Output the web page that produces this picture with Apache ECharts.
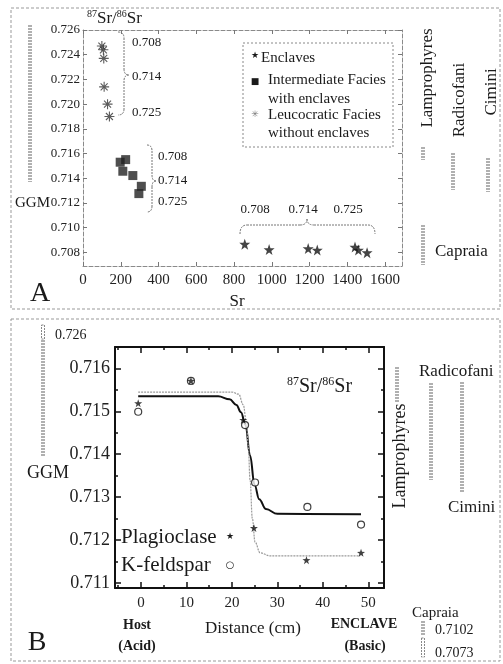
<!DOCTYPE html>
<html>
<head>
<meta charset="utf-8">
<script src="https://cdn.jsdelivr.net/npm/echarts@6/dist/echarts.min.js"></script>
<style>
html, body { margin: 0; padding: 0; background: #fff; }
#main { width: 503px; height: 664px; }
</style>
</head>
<body>
<div id="main"></div>
<script>
// ---- panel A : 87Sr/86Sr vs Sr (ppm)
var enclaveSr = [857, 986, 1193, 1241, 1441, 1459, 1505];
var enclaveRatio = [0.70867, 0.70823, 0.70831, 0.70819, 0.70843, 0.70819, 0.70798];
var interSr = [197, 226, 211, 264, 309, 296];
var interRatio = [0.71530, 0.71551, 0.71457, 0.71422, 0.71335, 0.71276];
var leucoSr = [100, 108, 110, 112, 130, 140];
var leucoRatio = [0.7247, 0.7244, 0.7237, 0.7214, 0.7200, 0.7190];
var srTicks = [0, 200, 400, 600, 800, 1000, 1200, 1400, 1600];
var ratioTicksA = [0.708, 0.710, 0.712, 0.714, 0.716, 0.718, 0.720, 0.722, 0.724, 0.726];

// ---- panel B : 87Sr/86Sr across the host / enclave contact
var plagDist = [-0.6, 11.0, 22.5, 24.85, 36.4, 48.4];
var plagRatio = [0.71519, 0.71571, 0.7148, 0.71228, 0.71153, 0.7117];
var kfsDist = [-0.6, 11.0, 22.9, 25.1, 36.6, 48.4];
var kfsRatio = [0.71499, 0.71571, 0.71468, 0.71334, 0.71277, 0.71236];
// fitted curves
var kfsCurveX = [-0.6, 17, 19.5, 21, 22, 23, 24, 25, 26, 27.5, 30, 48.4];
var kfsCurveY = [0.71535, 0.71535, 0.71528, 0.71515, 0.71498, 0.71468, 0.71397, 0.71328, 0.71295, 0.71272, 0.71261, 0.7126];
var plagCurveX = [-0.6, 20, 21.5, 22.5, 23.2, 23.6, 24.0, 24.5, 25.1, 26.2, 28.4, 48.2];
var plagCurveY = [0.71545, 0.71545, 0.7154, 0.71515, 0.71475, 0.7142, 0.7134, 0.7125, 0.71195, 0.7117, 0.71163, 0.71163];
var distTicks = [0, 10, 20, 30, 40, 50];
var distMinor = [-5, 5, 15, 25, 35, 45];
var ratioTicksB = [0.711, 0.712, 0.713, 0.714, 0.715, 0.716];
var ratioMinorB = [0.7115, 0.7125, 0.7135, 0.7145, 0.7155];

function zip(a, b) {
    return a.map(function (v, i) { return [v, b[i]]; });
}

var serif = 'Liberation Serif';
var starPath = 'path://M0,-10L2.35,-3.24L9.51,-3.09L3.8,1.24L5.88,8.09L0,4L-5.88,8.09L-3.8,1.24L-9.51,-3.09L-2.35,-3.24Z';
var astPath = 'path://M0,-5L0,5M-5,0L5,0M-3.5,-3.5L3.5,3.5M-3.5,3.5L3.5,-3.5';

var grayLine = { color: '#8a8a8a', type: 'dashed', width: 1 };
var blackLine = { color: '#111', width: 2 };

function axisA(pos, ticks, show, extra) {
    var a = {
        type: 'value', gridIndex: 0, position: pos,
        axisLine: { show: true, onZero: false, lineStyle: grayLine },
        axisTick: { show: true, inside: true, length: 4, customValues: ticks, lineStyle: { color: '#777' } },
        axisLabel: { show: show, customValues: ticks, color: '#222', fontFamily: serif },
        splitLine: { show: false }
    };
    return Object.assign(a, extra);
}
function axisB(pos, ticks, len, line, show, extra) {
    var a = {
        type: 'value', gridIndex: 1, position: pos,
        axisLine: { show: line, onZero: false, lineStyle: blackLine },
        axisTick: { show: true, inside: true, length: len, customValues: ticks, lineStyle: { color: '#111', width: 1.5 } },
        axisLabel: { show: show, customValues: ticks, color: '#222', fontFamily: serif },
        splitLine: { show: false }
    };
    return Object.assign(a, extra);
}

var xA = { min: 0, max: 1690 };
var yA = { min: 0.7069, max: 0.726 };
var xB = { min: -5.7, max: 53.45 };
var yB = { min: 0.71088, max: 0.7165 };

var xAxes = [
    axisA('bottom', srTicks, true, Object.assign({}, xA)),
    axisA('top', srTicks, false, Object.assign({}, xA)),
    axisB('bottom', distTicks, 6, true, true, Object.assign({}, xB)),
    axisB('bottom', distMinor, 3, false, false, Object.assign({}, xB)),
    axisB('top', distTicks, 6, true, false, Object.assign({}, xB)),
    axisB('top', distMinor, 3, false, false, Object.assign({}, xB))
];
xAxes[0].axisLabel.fontSize = 15;
xAxes[0].axisLabel.margin = 7;
xAxes[0].axisLabel.formatter = function (v) { return String(v); };
xAxes[2].axisLabel.fontSize = 15;
xAxes[2].axisLabel.margin = 8;

var yAxes = [
    axisA('left', ratioTicksA, true, Object.assign({}, yA)),
    axisA('right', ratioTicksA, false, Object.assign({}, yA)),
    axisB('left', ratioTicksB, 6, true, true, Object.assign({}, yB)),
    axisB('left', ratioMinorB, 3, false, false, Object.assign({}, yB)),
    axisB('right', ratioTicksB, 6, true, false, Object.assign({}, yB)),
    axisB('right', ratioMinorB, 3, false, false, Object.assign({}, yB))
];
yAxes[0].axisLabel.fontSize = 13;
yAxes[0].axisLabel.margin = 3;
yAxes[0].axisLabel.formatter = function (v) { return v.toFixed(3); };
yAxes[2].axisLabel.fontSize = 18;
yAxes[2].axisLabel.margin = 5;
yAxes[2].axisLabel.formatter = function (v) { return v.toFixed(3); };

function txt(x, y, s, size, extra) {
    var st = Object.assign({
        text: s, fill: '#1a1a1a', fontFamily: serif, fontSize: size,
        align: 'left', verticalAlign: 'middle'
    }, extra || {});
    return { type: 'text', x: x, y: y, style: st, z: 10 };
}
function rtxt(x, y, s, size) {
    var t = txt(x, y, s, size, { align: 'center' });
    t.rotation = Math.PI / 2;
    return t;
}
function bar(x, y1, y2) {
    return {
        type: 'line', shape: { x1: x, y1: y1, x2: x, y2: y2 },
        style: { stroke: '#b0b0b0', lineWidth: 4, lineDash: [2, 1] }, z: 5
    };
}
var braceStyle = { fill: 'none', stroke: '#777', lineWidth: 1, lineDash: [2, 1] };
// vertical curly brace opening to the right: x0 = ends, x1 = spine, x2 = tip
function vbrace(x0, x1, x2, yTop, yMid, yBot) {
    var r = 6;
    return [
        { type: 'bezierCurve', shape: { x1: x0, y1: yTop, cpx1: x1, cpy1: yTop, x2: x1, y2: yTop + r }, style: braceStyle },
        { type: 'line', shape: { x1: x1, y1: yTop + r, x2: x1, y2: yMid - r }, style: braceStyle },
        { type: 'bezierCurve', shape: { x1: x1, y1: yMid - r, cpx1: x1, cpy1: yMid, x2: x2, y2: yMid }, style: braceStyle },
        { type: 'bezierCurve', shape: { x1: x2, y1: yMid, cpx1: x1, cpy1: yMid, x2: x1, y2: yMid + r }, style: braceStyle },
        { type: 'line', shape: { x1: x1, y1: yMid + r, x2: x1, y2: yBot - r }, style: braceStyle },
        { type: 'bezierCurve', shape: { x1: x1, y1: yBot - r, cpx1: x1, cpy1: yBot, x2: x0, y2: yBot }, style: braceStyle }
    ];
}
// horizontal curly brace opening downwards
function hbrace(xL, xM, xR, y0, y1, y2) {
    var r = 7;
    return [
        { type: 'bezierCurve', shape: { x1: xL, y1: y0, cpx1: xL, cpy1: y1, x2: xL + r, y2: y1 }, style: braceStyle },
        { type: 'line', shape: { x1: xL + r, y1: y1, x2: xM - r, y2: y1 }, style: braceStyle },
        { type: 'bezierCurve', shape: { x1: xM - r, y1: y1, cpx1: xM, cpy1: y1, x2: xM, y2: y2 }, style: braceStyle },
        { type: 'bezierCurve', shape: { x1: xM, y1: y2, cpx1: xM, cpy1: y1, x2: xM + r, y2: y1 }, style: braceStyle },
        { type: 'line', shape: { x1: xM + r, y1: y1, x2: xR - r, y2: y1 }, style: braceStyle },
        { type: 'bezierCurve', shape: { x1: xR - r, y1: y1, cpx1: xR, cpy1: y1, x2: xR, y2: y0 }, style: braceStyle }
    ];
}
function ratioLabel(x, y, size) {
    return txt(x, y, '{s|87}{m|Sr/}{s|86}{m|Sr}', size, {
        rich: {
            m: { fontFamily: serif, fontSize: size, fill: '#1a1a1a', lineHeight: size + 3 },
            s: { fontFamily: serif, fontSize: Math.round(size * 0.6), fill: '#1a1a1a', lineHeight: size * 0.6, verticalAlign: 'top' }
        }
    });
}
var dashedBox = { fill: 'none', stroke: '#999', lineWidth: 1, lineDash: [3, 2] };

var graphics = [
    // panel frames
    { type: 'rect', shape: { x: 11, y: 8, width: 489, height: 301 }, style: dashedBox },
    { type: 'rect', shape: { x: 11, y: 319, width: 489, height: 342 }, style: dashedBox },

    // ---- panel A annotations
    ratioLabel(87, 19, 17),
    txt(40, 294, 'A', 28, { align: 'center' }),
    txt(237, 302, 'Sr', 17, { align: 'center' }),
    txt(15, 203, 'GGM', 15),
    bar(30, 25, 182),
    txt(132, 43, '0.708', 13), txt(132, 77, '0.714', 13), txt(132, 113, '0.725', 13),
    txt(158, 157, '0.708', 13), txt(158, 181, '0.714', 13), txt(158, 202, '0.725', 13),
    txt(255, 210, '0.708', 13, { align: 'center' }),
    txt(303, 210, '0.714', 13, { align: 'center' }),
    txt(348, 210, '0.725', 13, { align: 'center' }),
    // legend of panel A
    { type: 'rect', shape: { x: 243, y: 43, width: 150, height: 104 }, style: { fill: 'none', stroke: '#888', lineWidth: 1, lineDash: [2, 2] } },
    txt(255, 56, '\u2605', 9, { fontFamily: 'DejaVu Sans', align: 'center' }),
    txt(261, 58, 'Enclaves', 15),
    txt(255, 82, '\u25A0', 9, { fontFamily: 'DejaVu Sans', align: 'center' }),
    txt(268, 80, 'Intermediate Facies', 15),
    txt(268, 99, 'with enclaves', 15),
    txt(255, 115, '\u2733', 9, { fontFamily: 'DejaVu Sans', align: 'center', fill: '#777' }),
    txt(268, 115, 'Leucocratic Facies', 15),
    txt(268, 133, 'without enclaves', 15),
    // right-hand reference fields
    rtxt(428, 78, 'Lamprophyres', 17),
    rtxt(460, 100, 'Radicofani', 17),
    rtxt(492, 92, 'Cimini', 17),
    txt(435, 252, 'Capraia', 17),
    bar(423, 147, 160), bar(453, 153, 190), bar(488, 158, 192), bar(423, 225, 265),

    // ---- panel B annotations
    ratioLabel(287, 387, 20),
    txt(37, 643, 'B', 28, { align: 'center' }),
    txt(137, 625, 'Host', 14, { align: 'center', fontWeight: 'bold' }),
    txt(137, 646, '(Acid)', 14, { align: 'center', fontWeight: 'bold' }),
    txt(253, 629, 'Distance (cm)', 17, { align: 'center' }),
    txt(364, 624, 'ENCLAVE', 14, { align: 'center', fontWeight: 'bold' }),
    txt(365, 646, '(Basic)', 14, { align: 'center', fontWeight: 'bold' }),
    txt(121, 537, 'Plagioclase', 21),
    txt(230, 537, '\u2605', 9, { fontFamily: 'DejaVu Sans', align: 'center' }),
    txt(121, 565, 'K-feldspar', 21),
    txt(230, 565, '\u25CB', 10, { fontFamily: 'DejaVu Sans', align: 'center' }),
    txt(27, 473, 'GGM', 18),
    txt(55, 335, '0.726', 14),
    { type: 'rect', shape: { x: 41.5, y: 325, width: 3, height: 14 }, style: { fill: 'none', stroke: '#888', lineWidth: 1, lineDash: [2, 1] } },
    bar(43, 340, 457),
    rtxt(400, 456, 'Lamprophyres', 18),
    bar(397, 367, 403),
    txt(419, 372, 'Radicofani', 17),
    bar(431, 383, 480),
    bar(462, 382, 493),
    txt(448, 508, 'Cimini', 17),
    txt(412, 613, 'Capraia', 15),
    bar(423, 621, 635),
    { type: 'rect', shape: { x: 421.5, y: 638, width: 3, height: 19 }, style: { fill: 'none', stroke: '#888', lineWidth: 1, lineDash: [2, 1] } },
    txt(435, 630, '0.7102', 14),
    txt(435, 653, '0.7073', 14)
].concat(
    vbrace(118, 124, 129, 32, 75, 115),
    vbrace(147, 152, 156, 145, 181, 212),
    hbrace(240, 307, 375, 234, 225, 219)
);

var options = {
    animation: false,
    backgroundColor: '#fff',
    grid: [
        { left: 83, top: 30, width: 319, height: 236 },
        { left: 115, top: 347, width: 269, height: 241 }
    ],
    xAxis: xAxes,
    yAxis: yAxes,
    graphic: graphics,
    series: [
        {
            name: 'Enclaves', type: 'scatter', xAxisIndex: 0, yAxisIndex: 0,
            symbol: starPath, symbolSize: 11, itemStyle: { color: '#151515' },
            data: zip(enclaveSr, enclaveRatio)
        },
        {
            name: 'Intermediate Facies with enclaves', type: 'scatter', xAxisIndex: 0, yAxisIndex: 0,
            symbol: 'rect', symbolSize: 9, itemStyle: { color: '#222' },
            data: zip(interSr, interRatio)
        },
        {
            name: 'Leucocratic Facies without enclaves', type: 'scatter', xAxisIndex: 0, yAxisIndex: 0,
            symbol: astPath, symbolSize: 10,
            itemStyle: { color: 'transparent', borderColor: '#333', borderWidth: 1.1 },
            data: zip(leucoSr, leucoRatio)
        },
        {
            name: 'K-feldspar fit', type: 'line', xAxisIndex: 2, yAxisIndex: 2,
            smooth: 0.4, smoothMonotone: 'x', showSymbol: false, z: 2,
            lineStyle: { color: '#111', width: 2 },
            data: zip(kfsCurveX, kfsCurveY)
        },
        {
            name: 'Plagioclase fit', type: 'line', xAxisIndex: 2, yAxisIndex: 2,
            smooth: 0.4, smoothMonotone: 'x', showSymbol: false, z: 2,
            lineStyle: { color: '#9a9a9a', width: 1.2, type: [2, 1] },
            data: zip(plagCurveX, plagCurveY)
        },
        {
            name: 'K-feldspar', type: 'scatter', xAxisIndex: 2, yAxisIndex: 2,
            symbol: 'circle', symbolSize: 7, z: 3,
            itemStyle: { color: '#fff', borderColor: '#111', borderWidth: 1.2 },
            data: zip(kfsDist, kfsRatio)
        },
        {
            name: 'Plagioclase', type: 'scatter', xAxisIndex: 2, yAxisIndex: 2,
            symbol: starPath, symbolSize: 8, z: 4, itemStyle: { color: '#111' },
            data: zip(plagDist, plagRatio)
        }
    ]
};

var chart = echarts.init(document.getElementById('main'));
chart.setOption(options);
</script>
</body>
</html>
